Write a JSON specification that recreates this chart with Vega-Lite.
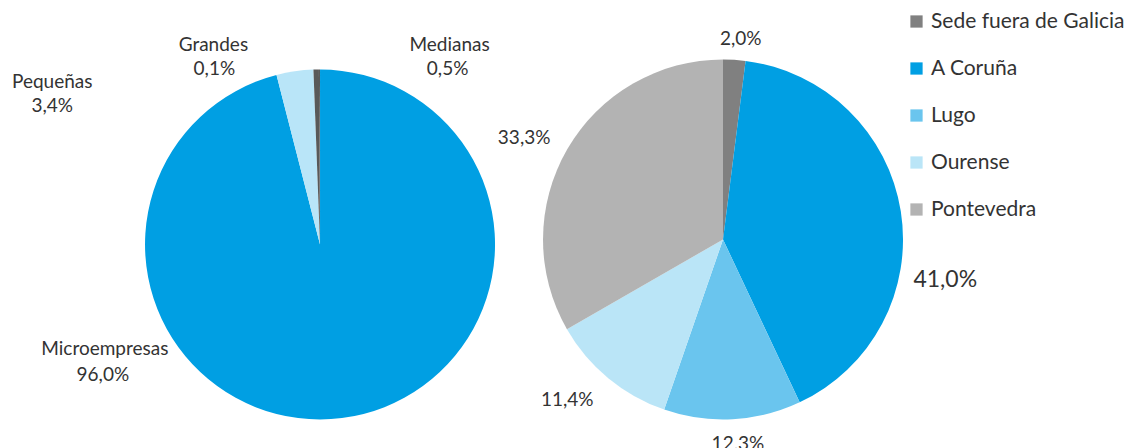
{
  "$schema": "https://vega.github.io/schema/vega-lite/v6.json",
  "width": 1137,
  "height": 448,
  "autosize": {"type": "none"},
  "padding": 0,
  "background": "white",
  "config": {
    "view": {"stroke": null},
    "locale": {"number": {"decimal": ",", "thousands": ".", "grouping": [3], "currency": ["", " €"]}},
    "text": {"font": "Lato", "fontSize": 19, "color": "#333333", "align": "center", "baseline": "middle"}
  },
  "layer": [
    {
      "data": {"values": [
        {"grafico": "Tamaño", "categoria": "Microempresas", "valor": 0.960, "orden": 1},
        {"grafico": "Tamaño", "categoria": "Pequeñas", "valor": 0.034, "orden": 2},
        {"grafico": "Tamaño", "categoria": "Medianas", "valor": 0.005, "orden": 3},
        {"grafico": "Tamaño", "categoria": "Grandes", "valor": 0.001, "orden": 4}
      ]},
      "encoding": {
        "theta": {"field": "valor", "type": "quantitative", "stack": true},
        "order": {"field": "orden", "type": "quantitative"},
        "detail": {"field": "categoria", "type": "nominal"},
        "x": {"field": "grafico", "type": "nominal", "axis": null, "scale": {"type": "point", "domain": ["Tamaño", "Provincia"], "padding": 0.9107, "align": 0.436}},
        "y": {"field": "grafico", "type": "nominal", "axis": null, "scale": {"type": "point", "domain": ["Provincia", "Tamaño"], "range": [237, 247]}}
      },
      "layer": [
        {
          "mark": {"type": "arc", "outerRadius": 175},
          "encoding": {
            "color": {
              "field": "categoria", "type": "nominal",
              "scale": {
                "domain": ["Microempresas", "Pequeñas", "Medianas", "Grandes", "Sede fuera de Galicia", "A Coruña", "Lugo", "Ourense", "Pontevedra"],
                "range": ["#009FE3", "#B9E5F8", "#595959", "#595959", "#808080", "#009FE3", "#6AC5EE", "#BAE5F7", "#B3B3B3"]
              },
              "legend": {
                "values": ["Sede fuera de Galicia", "A Coruña", "Lugo", "Ourense", "Pontevedra"],
                "title": null, "orient": "none", "legendX": 906, "legendY": 11,
                "symbolType": "square", "symbolSize": 150, "symbolStrokeWidth": 0,
                "labelFont": "Lato", "labelFontSize": 21, "labelColor": "#333333",
                "labelOffset": 4, "rowPadding": 25, "labelLimit": 400
              }
            }
          }
        },
        {"mark": {"type": "text", "radius": 190, "dx": -239, "dy": -84},
         "encoding": {"text": {"condition": {"test": "datum.categoria === 'Microempresas'", "field": "categoria", "type": "nominal"}, "value": ""}}},
        {"mark": {"type": "text", "radius": 190, "dx": -241, "dy": -58},
         "encoding": {"text": {"condition": {"test": "datum.categoria === 'Microempresas'", "field": "valor", "type": "quantitative", "format": ".1%"}, "value": ""}}},
        {"mark": {"type": "text", "radius": 200, "dx": -239, "dy": 35},
         "encoding": {"text": {"condition": {"test": "datum.categoria === 'Pequeñas'", "field": "categoria", "type": "nominal"}, "value": ""}}},
        {"mark": {"type": "text", "radius": 200, "dx": -239, "dy": 59},
         "encoding": {"text": {"condition": {"test": "datum.categoria === 'Pequeñas'", "field": "valor", "type": "quantitative", "format": ".1%"}, "value": ""}}},
        {"mark": {"type": "text", "radius": 200, "dx": 134, "dy": 0},
         "encoding": {"text": {"condition": {"test": "datum.categoria === 'Medianas'", "field": "categoria", "type": "nominal"}, "value": ""}}},
        {"mark": {"type": "text", "radius": 200, "dx": 132, "dy": 24},
         "encoding": {"text": {"condition": {"test": "datum.categoria === 'Medianas'", "field": "valor", "type": "quantitative", "format": ".1%"}, "value": ""}}},
        {"mark": {"type": "text", "radius": 200, "dx": -106, "dy": 0},
         "encoding": {"text": {"condition": {"test": "datum.categoria === 'Grandes'", "field": "categoria", "type": "nominal"}, "value": ""}}},
        {"mark": {"type": "text", "radius": 200, "dx": -105, "dy": 24},
         "encoding": {"text": {"condition": {"test": "datum.categoria === 'Grandes'", "field": "valor", "type": "quantitative", "format": ".1%"}, "value": ""}}}
      ]
    },
    {
      "data": {"values": [
        {"grafico": "Provincia", "categoria": "Sede fuera de Galicia", "valor": 0.020, "orden": 1},
        {"grafico": "Provincia", "categoria": "A Coruña", "valor": 0.410, "orden": 2},
        {"grafico": "Provincia", "categoria": "Lugo", "valor": 0.123, "orden": 3},
        {"grafico": "Provincia", "categoria": "Ourense", "valor": 0.114, "orden": 4},
        {"grafico": "Provincia", "categoria": "Pontevedra", "valor": 0.333, "orden": 5}
      ]},
      "encoding": {
        "theta": {"field": "valor", "type": "quantitative", "stack": true},
        "order": {"field": "orden", "type": "quantitative"},
        "detail": {"field": "categoria", "type": "nominal"},
        "x": {"field": "grafico", "type": "nominal", "axis": null, "scale": {"type": "point", "domain": ["Tamaño", "Provincia"], "padding": 0.9107, "align": 0.436}},
        "y": {"field": "grafico", "type": "nominal", "axis": null, "scale": {"type": "point", "domain": ["Provincia", "Tamaño"], "range": [237, 247]}}
      },
      "layer": [
        {
          "mark": {"type": "arc", "outerRadius": 180},
          "encoding": {"color": {"field": "categoria", "type": "nominal"}}
        },
        {"mark": {"type": "text", "radius": 202, "dx": 5, "dy": 1},
         "encoding": {"text": {"condition": {"test": "datum.categoria === 'Sede fuera de Galicia'", "field": "valor", "type": "quantitative", "format": ".1%"}, "value": ""}}},
        {"mark": {"type": "text", "radius": 225, "dx": 0, "dy": 76, "fontSize": 23},
         "encoding": {"text": {"condition": {"test": "datum.categoria === 'A Coruña'", "field": "valor", "type": "quantitative", "format": ".1%"}, "value": ""}}},
        {"mark": {"type": "text", "radius": 204, "dx": 4, "dy": 1},
         "encoding": {"text": {"condition": {"test": "datum.categoria === 'Lugo'", "field": "valor", "type": "quantitative", "format": ".1%"}, "value": ""}}},
        {"mark": {"type": "text", "radius": 224, "dx": -13, "dy": -12},
         "encoding": {"text": {"condition": {"test": "datum.categoria === 'Ourense'", "field": "valor", "type": "quantitative", "format": ".1%"}, "value": ""}}},
        {"mark": {"type": "text", "radius": 224, "dx": -5, "dy": 11},
         "encoding": {"text": {"condition": {"test": "datum.categoria === 'Pontevedra'", "field": "valor", "type": "quantitative", "format": ".1%"}, "value": ""}}}
      ]
    }
  ]
}
